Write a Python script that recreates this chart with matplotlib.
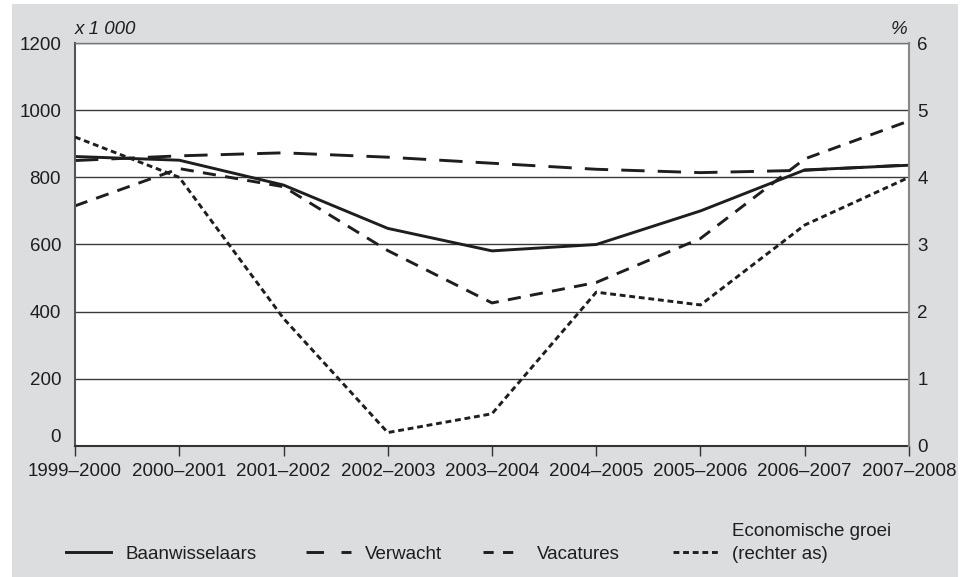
import matplotlib
matplotlib.use("Agg")
import matplotlib.pyplot as plt
from matplotlib.lines import Line2D
from matplotlib.patches import Rectangle
import matplotlib.transforms as mtransforms

plt.rcParams['font.family'] = ['Liberation Sans', 'DejaVu Sans']

periods = ["1999–2000", "2000–2001", "2001–2002", "2002–2003", "2003–2004",
           "2004–2005", "2005–2006", "2006–2007", "2007–2008"]
baanwisselaars = [862, 851, 777, 648, 581, 600, 700, 822, 836]
verwacht = [850, 864, 873, 860, 842, 824, 814, 821, 837]
vacatures = [715, 826, 772, 582, 426, 487, 618, 855, 968]
economische_groei = [4.6, 4.0, 1.9, 0.2, 0.48, 2.29, 2.1, 3.29, 4.0]

left_ticks = [0, 200, 400, 600, 800, 1000, 1200]
right_ticks = [0, 1, 2, 3, 4, 5, 6]

W, H = 970, 577
fig = plt.figure(figsize=(W / 100, H / 100), dpi=100)
fig.patch.set_facecolor('white')
fig.patches.append(Rectangle((12 / W, 0), (958 - 12) / W, 1 - 4 / H,
                             transform=fig.transFigure, facecolor='#dcdddf',
                             edgecolor='none', zorder=-10))

ax = fig.add_axes([75 / W, 1 - 446 / H, (909 - 75) / W, (446 - 43) / H])
ax.set_facecolor('white')
ax2 = ax.twinx()

x = list(range(len(periods)))
lc = '#1e1e1e'
lw = 2.1
ax.plot(x, baanwisselaars, color=lc, lw=lw, solid_joinstyle='miter')
ax.plot(x, verwacht, color=lc, lw=lw, dashes=(8, 4.5))
ax.plot(x, vacatures, color=lc, lw=lw, dashes=(4.5, 3.2))
ax2.plot(x, economische_groei, color=lc, lw=lw, dashes=(2.0, 1.3))

ax.set_xlim(0, len(periods) - 1)
ax.set_ylim(0, 1200)
ax2.set_ylim(0, 6)
ax.set_yticks(left_ticks)
ax2.set_yticks(right_ticks)
ax.set_xticks(x)
ax.set_xticklabels(periods)

fs = 13.5
ax.grid(axis='y', color='#3a3a3a', lw=1.0)
ax.set_axisbelow(True)
ax.tick_params(axis='x', direction='out', length=7, width=1, color='#333333',
               labelsize=fs, pad=5, labelcolor='#1e1e1e')
ax.tick_params(axis='y', length=0, labelsize=fs, pad=10, labelcolor='#1e1e1e')
ax2.tick_params(axis='y', length=0, labelsize=fs, pad=6, labelcolor='#1e1e1e')

ax.spines['top'].set_color('#777777')
ax.spines['top'].set_linewidth(1.0)
ax2.spines['top'].set_visible(False)
ax.spines['left'].set_color('#555555')
ax.spines['left'].set_linewidth(1.5)
ax.spines['bottom'].set_color('#333333')
ax.spines['bottom'].set_linewidth(1.5)
ax.spines['right'].set_visible(False)
ax2.spines['left'].set_visible(False)
ax2.spines['bottom'].set_visible(False)
ax2.spines['right'].set_color('#888888')
ax2.spines['right'].set_linewidth(1.5)

# raise the left "0" label slightly, as in the reference
fig.canvas.draw()
lbl0 = ax.get_yticklabels()[0]
lbl0.set_transform(lbl0.get_transform() +
                   mtransforms.ScaledTranslation(0, 10 / 100, fig.dpi_scale_trans))

fig.text(75 / W, 1 - 30 / H, "x 1 000", fontsize=fs, style='italic',
         ha='left', va='center', color='#1e1e1e')
fig.text(907 / W, 1 - 30 / H, "%", fontsize=fs, style='italic',
         ha='right', va='center', color='#1e1e1e')

entries = [
    ("Baanwisselaars", None, 66, 2.4),
    ("Verwacht", (6, 6), 306, 2.4),
    ("Vacatures", (3.5, 3.2), 483, 2.1),
    ("(rechter as)", (2.0, 1.3), 673, 2.4),
]
for label, dash, xpx, hl in entries:
    if dash is None:
        h = Line2D([], [], color=lc, lw=lw)
    else:
        h = Line2D([], [], color=lc, lw=lw, dashes=dash)
    fig.legend(handles=[h], labels=[label], loc='center left',
               bbox_to_anchor=(xpx / W, 1 - 554 / H), frameon=False,
               fontsize=fs, handlelength=hl, handletextpad=0.75,
               borderpad=0, borderaxespad=0, labelcolor='#1e1e1e')
fig.text(732 / W, 1 - 531 / H, "Economische groei", fontsize=fs,
         ha='left', va='center', color='#1e1e1e')

fig.savefig("out.png", dpi=100, facecolor=fig.get_facecolor())
